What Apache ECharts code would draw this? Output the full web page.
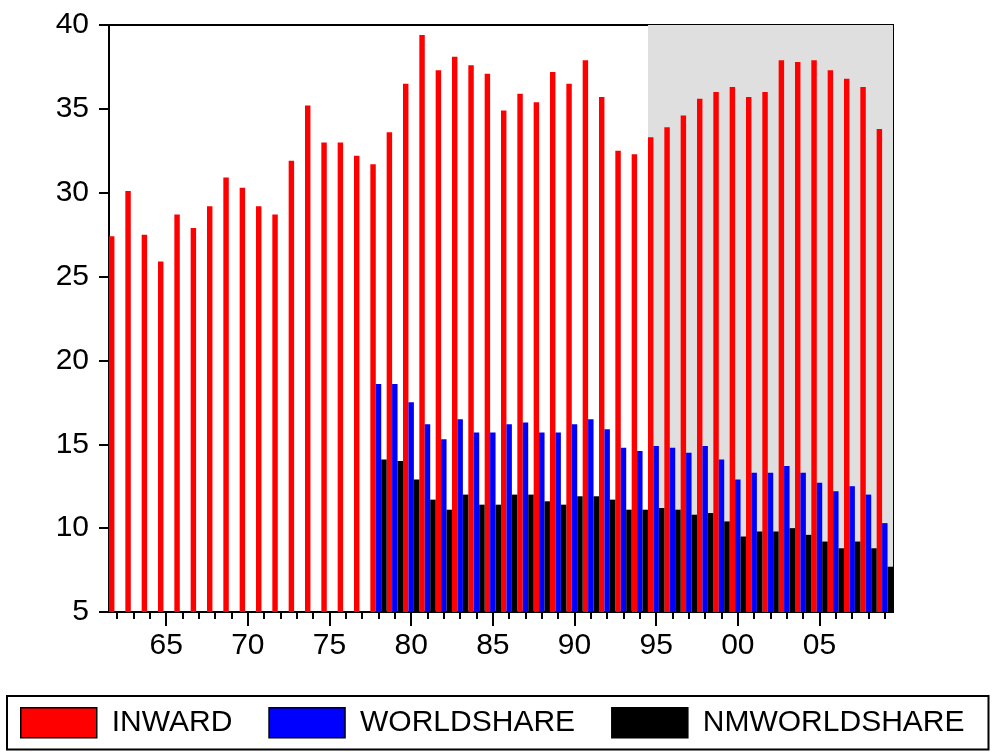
<!DOCTYPE html>
<html>
<head>
<meta charset="utf-8">
<script src="https://cdn.jsdelivr.net/npm/echarts@6/dist/echarts.min.js"></script>
<style>
  html, body { margin: 0; padding: 0; background: #fff; }
  #chart { width: 1000px; height: 752px; }
</style>
</head>
<body>
<div id="chart"></div>
<script>
// ---- data ----
const years = ['1962','1963','1964','1965','1966','1967','1968','1969','1970','1971',
  '1972','1973','1974','1975','1976','1977','1978','1979','1980','1981',
  '1982','1983','1984','1985','1986','1987','1988','1989','1990','1991',
  '1992','1993','1994','1995','1996','1997','1998','1999','2000','2001',
  '2002','2003','2004','2005','2006','2007','2008','2009'];

const inward = [27.4, 30.1, 27.5, 25.9, 28.7, 27.9, 29.2, 30.9, 30.3, 29.2,
  28.7, 31.9, 35.2, 33.0, 33.0, 32.2, 31.7, 33.6, 36.5, 39.4,
  37.3, 38.1, 37.6, 37.1, 34.9, 35.9, 35.4, 37.2, 36.5, 37.9,
  35.7, 32.5, 32.3, 33.3, 33.9, 34.6, 35.6, 36.0, 36.3, 35.7,
  36.0, 37.9, 37.8, 37.9, 37.3, 36.8, 36.3, 33.8];

const worldshare = [null, null, null, null, null, null, null, null, null, null,
  null, null, null, null, null, null, 18.6, 18.6, 17.5, 16.2,
  15.3, 16.5, 15.7, 15.7, 16.2, 16.3, 15.7, 15.7, 16.2, 16.5,
  15.9, 14.8, 14.6, 14.9, 14.8, 14.5, 14.9, 14.1, 12.9, 13.3,
  13.3, 13.7, 13.3, 12.7, 12.2, 12.5, 12.0, 10.3];

const nmworldshare = [null, null, null, null, null, null, null, null, null, null,
  null, null, null, null, null, null, 14.1, 14.0, 12.9, 11.7,
  11.1, 12.0, 11.4, 11.4, 12.0, 12.0, 11.6, 11.4, 11.9, 11.9,
  11.7, 11.1, 11.1, 11.2, 11.1, 10.8, 10.9, 10.4, 9.5, 9.8,
  9.8, 10.0, 9.6, 9.2, 8.8, 9.2, 8.8, 7.7];

const xLabelYears = ['1965','1970','1975','1980','1985','1990','1995','2000','2005'];
const yMin = 5, yMax = 40, yStep = 5;
const shadeStartYear = '1995';
const shadeEndYear = '2009';
const seriesNames = ['INWARD', 'WORLDSHARE', 'NMWORLDSHARE'];
const seriesColors = ['#ff0000', '#0000ff', '#000000'];

// ---- chart ----
const chart = echarts.init(document.getElementById('chart'), null, { renderer: 'canvas' });
const FONT = "'Liberation Sans', Arial, Helvetica, sans-serif";
const shadeFrom = years.indexOf(shadeStartYear);
const shadeTo = years.indexOf(shadeEndYear) + 1;

const option = {
  animation: false,
  backgroundColor: '#ffffff',
  grid: {
    left: 109, right: 107, top: 25, bottom: 140,
    show: true, borderColor: '#000', borderWidth: 2, backgroundColor: 'transparent'
  },
  legend: {
    data: seriesNames,
    left: 7, top: 696,
    orient: 'horizontal',
    padding: [11, 24, 11, 13],
    borderColor: '#000', borderWidth: 2,
    itemWidth: 76, itemHeight: 30, itemGap: 36,
    icon: 'rect',
    itemStyle: { borderColor: '#000', borderWidth: 1.5 },
    textStyle: { fontFamily: FONT, fontSize: 30, color: '#000', padding: [0, 0, 0, 10] }
  },
  xAxis: [
    {
      type: 'category', data: years, position: 'bottom',
      boundaryGap: true,
      axisLine: { show: true, lineStyle: { color: '#000', width: 2 } },
      axisTick: {
        show: true, alignWithLabel: true, length: 14, lineStyle: { color: '#000', width: 2 },
        interval: (i, v) => xLabelYears.includes(v)
      },
      axisLabel: {
        interval: (i, v) => xLabelYears.includes(v),
        formatter: v => v.slice(2),
        fontFamily: FONT, fontSize: 30, color: '#000', margin: 19
      },
      splitLine: { show: false }
    },
    {
      type: 'category', data: years, position: 'bottom',
      boundaryGap: true,
      axisLine: { show: false },
      axisTick: { show: true, alignWithLabel: true, interval: 0, length: 7, lineStyle: { color: '#000', width: 2 } },
      axisLabel: { show: false },
      splitLine: { show: false }
    },
    {
      type: 'value', min: 0, max: years.length, show: false
    }
  ],
  yAxis: {
    type: 'value', min: yMin, max: yMax, interval: yStep,
    axisLine: { show: true, lineStyle: { color: '#000', width: 2 } },
    axisTick: { show: true, length: 10, lineStyle: { color: '#000', width: 2 } },
    axisLabel: { fontFamily: FONT, fontSize: 30, color: '#000', margin: 20 },
    splitLine: { show: false }
  },
  series: [
    {
      name: 'shade', type: 'line', xAxisIndex: 2, yAxisIndex: 0,
      data: [[shadeFrom, yMin]], showSymbol: false, symbol: 'none',
      lineStyle: { opacity: 0 }, silent: true, z: 0,
      markArea: {
        silent: true,
        itemStyle: { color: '#dfdfdf' },
        data: [[{ xAxis: shadeFrom }, { xAxis: shadeTo }]]
      }
    },
    {
      name: seriesNames[0], type: 'bar', data: inward, xAxisIndex: 0,
      itemStyle: { color: seriesColors[0] },
      barGap: '0%', barCategoryGap: '0%', z: 2
    },
    {
      name: seriesNames[1], type: 'bar', data: worldshare, xAxisIndex: 0,
      itemStyle: { color: seriesColors[1] },
      barGap: '0%', barCategoryGap: '0%', z: 2
    },
    {
      name: seriesNames[2], type: 'bar', data: nmworldshare, xAxisIndex: 0,
      itemStyle: { color: seriesColors[2] },
      barGap: '0%', barCategoryGap: '0%', z: 2
    }
  ]
};
chart.setOption(option);
</script>
</body>
</html>
